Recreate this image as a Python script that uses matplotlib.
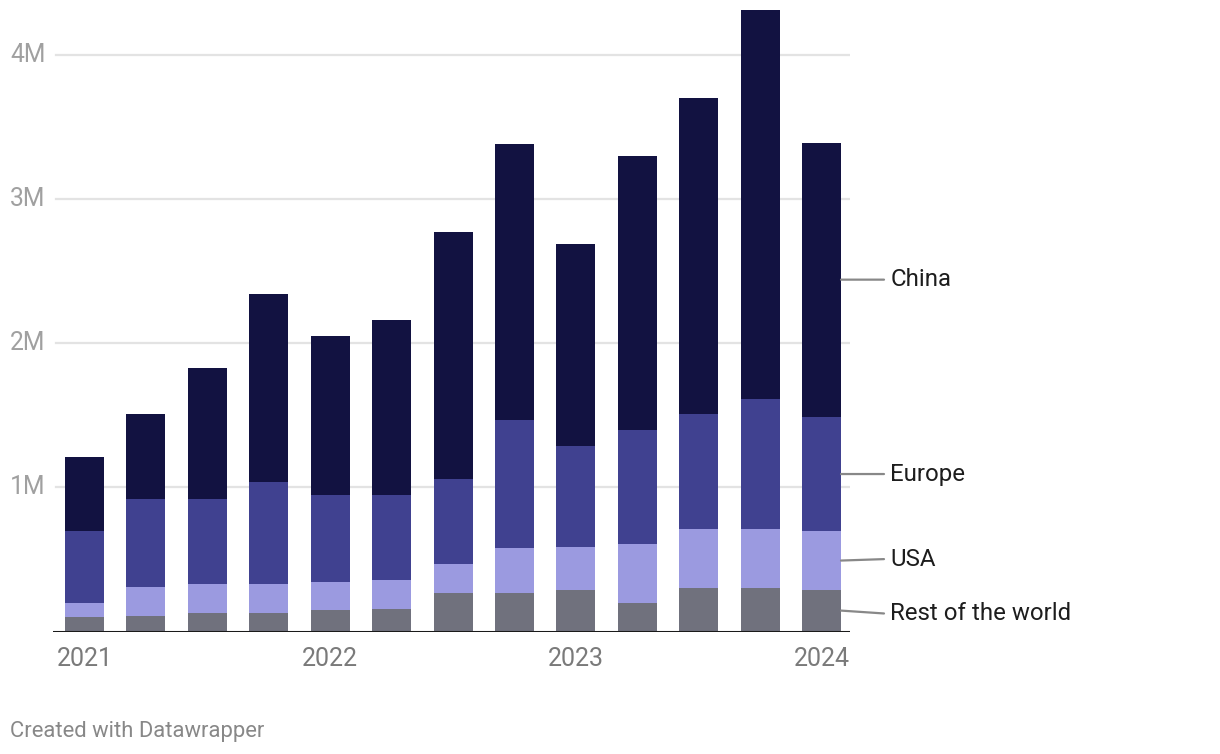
import matplotlib
matplotlib.use("Agg")
import matplotlib.pyplot as plt
import numpy as np

quarters = ["2021 Q1", "2021 Q2", "2021 Q3", "2021 Q4", "2022 Q1", "2022 Q2", "2022 Q3",
            "2022 Q4", "2023 Q1", "2023 Q2", "2023 Q3", "2023 Q4", "2024 Q1"]
# cumulative tops (millions)
rest_top = [0.104, 0.11, 0.125, 0.13, 0.146, 0.153, 0.264, 0.27, 0.285, 0.20, 0.305, 0.305, 0.29]
usa_top = [0.20, 0.31, 0.326, 0.33, 0.34, 0.354, 0.465, 0.576, 0.583, 0.604, 0.708, 0.708, 0.694]
europe_top = [0.70, 0.92, 0.92, 1.035, 0.944, 0.95, 1.06, 1.47, 1.285, 1.40, 1.505, 1.61, 1.49]
total_top = [1.21, 1.51, 1.83, 2.34, 2.05, 2.16, 2.77, 3.38, 2.69, 3.30, 3.70, 4.31, 3.39]

rest = np.array(rest_top)
usa = np.array(usa_top) - np.array(rest_top)
europe = np.array(europe_top) - np.array(usa_top)
china = np.array(total_top) - np.array(europe_top)

series_names = ["Rest of the world", "USA", "Europe", "China"]
colors = ["#70717d", "#9b9ae0", "#404190", "#121241"]
xtick_labels = ["2021", "2022", "2023", "2024"]
xtick_pos = [0, 4, 8, 12]
ytick_vals = [1, 2, 3, 4]
ytick_labels = ["1M", "2M", "3M", "4M"]

plt.rcParams['font.family'] = ['Roboto', 'DejaVu Sans']

W, H = 1220, 754
fig = plt.figure(figsize=(W / 100, H / 100), dpi=100)
y0_px, ytop_px = 631.5, 5
ymax = (y0_px - ytop_px) / 144.2
ax = fig.add_axes([53 / W, (H - y0_px) / H, (850 - 53) / W, (y0_px - ytop_px) / H])

x = np.arange(len(quarters))
width = 0.635
bottom = np.zeros(len(quarters))
for vals, c in zip([rest, usa, europe, china], colors):
    ax.bar(x, vals, width, bottom=bottom, color=c, linewidth=0, zorder=3)
    bottom = bottom + vals

ax.set_xlim(-0.513, 12.464)
ax.set_ylim(0, ymax)
for v in ytick_vals:
    ax.axhline(v, color="#e3e3e3", lw=1.6, zorder=1, xmin=(56 - 53) / (850 - 53))
ax.axhline(0, color="#1a1a1a", lw=2.2, zorder=4)

for s in ax.spines.values():
    s.set_visible(False)
ax.set_xticks([])
ax.set_yticks([])

for v, lab in zip(ytick_vals, ytick_labels):
    ypx = y0_px - v * 144.2
    fig.text(10 / W, (H - ypx) / H, lab, ha="left", va="center", fontsize=17.8, color="#a0a0a0")

for p, lab in zip(xtick_pos, xtick_labels):
    ax.text(p, -0.11, lab, ha="center", va="top", fontsize=18, color="#7a7a7a",
            transform=ax.transData, clip_on=False)

# right-side labels attached to the last bar
last = len(quarters) - 1
mids = [rest[last] / 2,
        rest[last] + usa[last] / 2,
        usa_top[last] + europe[last] / 2,
        europe_top[last] + china[last] / 2]
label_y = [mids[0] - 0.02, mids[1] + 0.01, mids[2], mids[3]]
xr = last + width / 2
for name, m, ly in zip(series_names, mids, label_y):
    ax.annotate("", xy=(xr, m), xytext=(xr + 0.70, ly),
                arrowprops=dict(arrowstyle="-", color="#888888", lw=1.6,
                                shrinkA=0, shrinkB=0),
                annotation_clip=False)
    ax.text(xr + 0.80, ly, name, ha="left", va="center", fontsize=17.3,
            color="#1d1d1d", clip_on=False)

fig.text(10 / W, (H - 737) / H, "Created with Datawrapper", ha="left", va="baseline",
         fontsize=15.8, color="#888888")

fig.savefig("out.png", dpi=100, facecolor="white")
